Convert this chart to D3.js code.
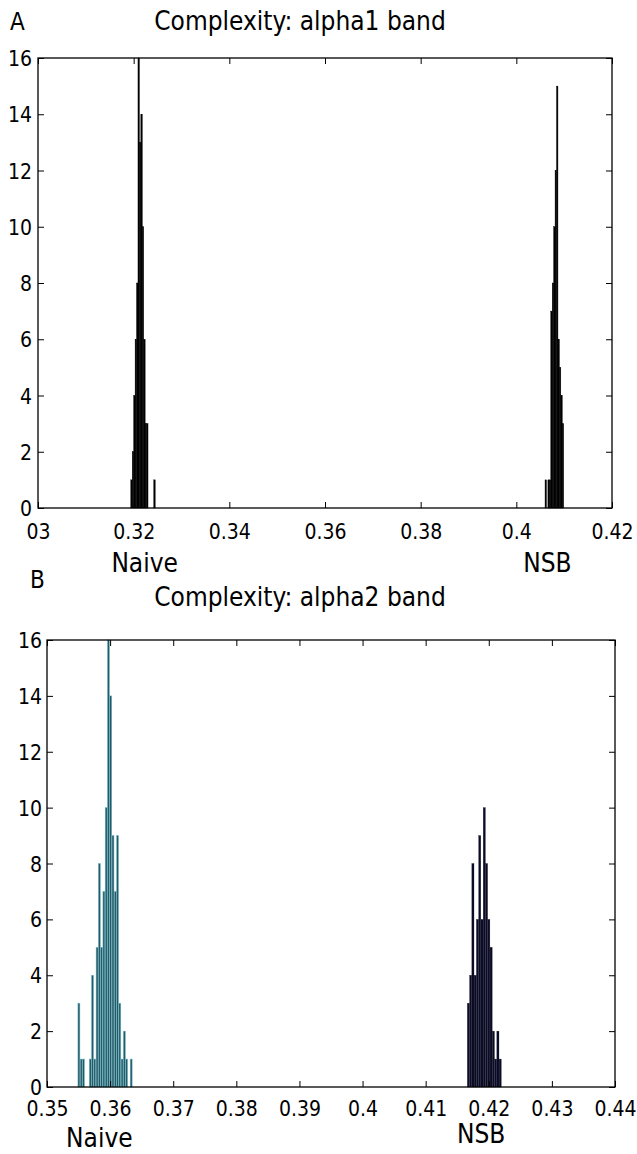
<!DOCTYPE html>
<html>
<head>
<meta charset="utf-8">
<script src="https://cdn.jsdelivr.net/npm/d3@7"></script>
<style>
  body { margin: 0; background: #fff; }
  text { font-family: "DejaVu Sans Condensed", "Liberation Sans", sans-serif; fill: #000; }
</style>
</head>
<body>
<script>
//size of svg
const canvWidth = 637;
const canvHeight = 1154;

//**************************************************************************
//Data (bin left edges and counts)

//panel A - alpha1 band
const binWidthA = 0.0003;
const naiveEdgesA = [0.3194, 0.3197, 0.3200, 0.3203, 0.3206, 0.3209, 0.3212, 0.3215, 0.3218, 0.3221, 0.3224, 0.3227, 0.3230, 0.3233, 0.3236, 0.3239, 0.3242];
const naiveCountsA = [1, 2, 4, 6, 8, 16, 13, 14, 10, 6, 3, 3, 0, 0, 0, 0, 1];
const nsbEdgesA = [0.4060, 0.4063, 0.4066, 0.4069, 0.4072, 0.4075, 0.4078, 0.4081, 0.4084, 0.4087, 0.4090, 0.4093, 0.4096];
const nsbCountsA = [1, 0, 1, 1, 7, 8, 10, 12, 15, 6, 5, 4, 3];
const xTicksA = [0.30, 0.32, 0.34, 0.36, 0.38, 0.40, 0.42];
const xTickLabelsA = ["03", "0.32", "0.34", "0.36", "0.38", "0.4", "0.42"];

//panel B - alpha2 band
const binWidthB = 0.00036;
const naiveEdgesB = [0.35490, 0.35526, 0.35562, 0.35598, 0.35634, 0.35670, 0.35706, 0.35742, 0.35778, 0.35814, 0.35850, 0.35886, 0.35922, 0.35958, 0.35994, 0.36030, 0.36066, 0.36102, 0.36138, 0.36174, 0.36210, 0.36246, 0.36282, 0.36318];
const naiveCountsB = [3, 1, 1, 0, 0, 1, 4, 1, 5, 8, 5, 7, 10, 16, 14, 9, 7, 9, 3, 1, 2, 1, 0, 1];
const nsbEdgesB = [0.41660, 0.41696, 0.41732, 0.41768, 0.41804, 0.41840, 0.41876, 0.41912, 0.41948, 0.41984, 0.42020, 0.42056, 0.42092, 0.42128, 0.42164];
const nsbCountsB = [3, 4, 8, 4, 6, 9, 6, 10, 8, 6, 5, 2, 1, 2, 1];
const xTicksB = [0.35, 0.36, 0.37, 0.38, 0.39, 0.40, 0.41, 0.42, 0.43, 0.44];
const xTickLabelsB = ["0.35", "0.36", "0.37", "0.38", "0.39", "0.4", "0.41", "0.42", "0.43", "0.44"];

const yTicks = [0, 2, 4, 6, 8, 10, 12, 14, 16];

//**************************************************************************
//svg

const svg = d3.select("body").append("svg")
  .attr("width", canvWidth)
  .attr("height", canvHeight);

//one histogram panel
function drawPanel(p) {
  const xScale = d3.scaleLinear().domain(p.xDomain).range([p.left, p.right]);
  const yScale = d3.scaleLinear().domain([0, 16]).range([p.bottom, p.top]);
  const g = svg.append("g").attr("id", p.id);

  //bars
  p.series.forEach(s => {
    const data = s.edges.map((e, i) => ({x0: e, x1: e + p.binWidth, n: s.counts[i]})).filter(d => d.n > 0);
    g.append("g").selectAll("rect")
      .data(data)
      .enter().append("rect")
      .attr("x", d => xScale(d.x0))
      .attr("y", d => yScale(d.n))
      .attr("width", d => Math.max(0.6, xScale(d.x1) - xScale(d.x0) - s.gap))
      .attr("height", d => yScale(0) - yScale(d.n))
      .attr("fill", s.fill)
      .attr("stroke", s.stroke)
      .attr("stroke-width", s.strokeWidth);
  });

  //axes, ticks point inwards on every side (matlab style)
  const tickLen = 6;
  g.append("g")
    .attr("transform", `translate(0,${p.bottom})`)
    .call(d3.axisBottom(xScale).tickValues(p.xTicks).tickSizeInner(-tickLen).tickSizeOuter(0)
      .tickFormat((d, i) => p.xTickLabels[i]))
    .call(a => a.select(".domain").remove())
    .call(a => a.selectAll("text").attr("font-size", 21).attr("dy", 0).attr("y", p.xLabelY));
  g.append("g")
    .attr("transform", `translate(0,${p.top})`)
    .call(d3.axisTop(xScale).tickValues(p.xTicks).tickSizeInner(-tickLen).tickSizeOuter(0).tickFormat(""))
    .call(a => a.select(".domain").remove());
  g.append("g")
    .attr("transform", `translate(${p.left},0)`)
    .call(d3.axisLeft(yScale).tickValues(yTicks).tickSizeInner(-tickLen).tickSizeOuter(0).tickPadding(p.yPad))
    .call(a => a.select(".domain").remove())
    .call(a => a.selectAll("text").attr("font-size", 21).attr("dy", "0.36em"));
  g.append("g")
    .attr("transform", `translate(${p.right},0)`)
    .call(d3.axisRight(yScale).tickValues(yTicks).tickSizeInner(-tickLen).tickSizeOuter(0).tickFormat(""))
    .call(a => a.select(".domain").remove());
  g.selectAll(".tick line").attr("stroke", "#000").attr("stroke-width", 1);

  //frame
  g.append("rect")
    .attr("x", p.left).attr("y", p.top)
    .attr("width", p.right - p.left).attr("height", p.bottom - p.top)
    .attr("fill", "none").attr("stroke", "#000").attr("stroke-width", 1.3);

  //title and labels
  g.append("text").attr("x", p.letterX).attr("y", p.letterY).attr("font-size", 24).text(p.letter);
  g.append("text").attr("x", 300).attr("y", p.titleY).attr("font-size", 26)
    .attr("text-anchor", "middle").text(p.title);
  p.groupLabels.forEach(l => {
    g.append("text").attr("x", xScale(l.at)).attr("y", l.y).attr("font-size", 26)
      .attr("text-anchor", "middle").text(l.text);
  });
}

drawPanel({
  id: "panel-a",
  left: 38, right: 612, top: 58, bottom: 508,
  xDomain: [0.30, 0.42],
  binWidth: binWidthA,
  xTicks: xTicksA, xTickLabels: xTickLabelsA, yPad: 6, xLabelY: 31,
  series: [
    {edges: naiveEdgesA, counts: naiveCountsA, fill: "#000", stroke: "#000", strokeWidth: 0.4, gap: 0},
    {edges: nsbEdgesA, counts: nsbCountsA, fill: "#000", stroke: "#000", strokeWidth: 0.4, gap: 0}
  ],
  letter: "A", letterX: 10, letterY: 30,
  title: "Complexity: alpha1 band", titleY: 30,
  groupLabels: [{text: "Naive", at: 0.3223, y: 572}, {text: "NSB", at: 0.4065, y: 572}]
});

drawPanel({
  id: "panel-b",
  left: 47, right: 615, top: 640, bottom: 1087,
  xDomain: [0.35, 0.44],
  binWidth: binWidthB,
  xTicks: xTicksB, xTickLabels: xTickLabelsB, yPad: 5, xLabelY: 29,
  series: [
    {edges: naiveEdgesB, counts: naiveCountsB, fill: "#285a66", stroke: "#6fbccc", strokeWidth: 0.5, gap: 0.3},
    {edges: nsbEdgesB, counts: nsbCountsB, fill: "#0b0b24", stroke: "#1c1c3a", strokeWidth: 0.3, gap: 0.15}
  ],
  letter: "B", letterX: 30, letterY: 588,
  title: "Complexity: alpha2 band", titleY: 606,
  groupLabels: [{text: "Naive", at: 0.3583, y: 1147}, {text: "NSB", at: 0.4188, y: 1143}]
});
</script>
</body>
</html>
